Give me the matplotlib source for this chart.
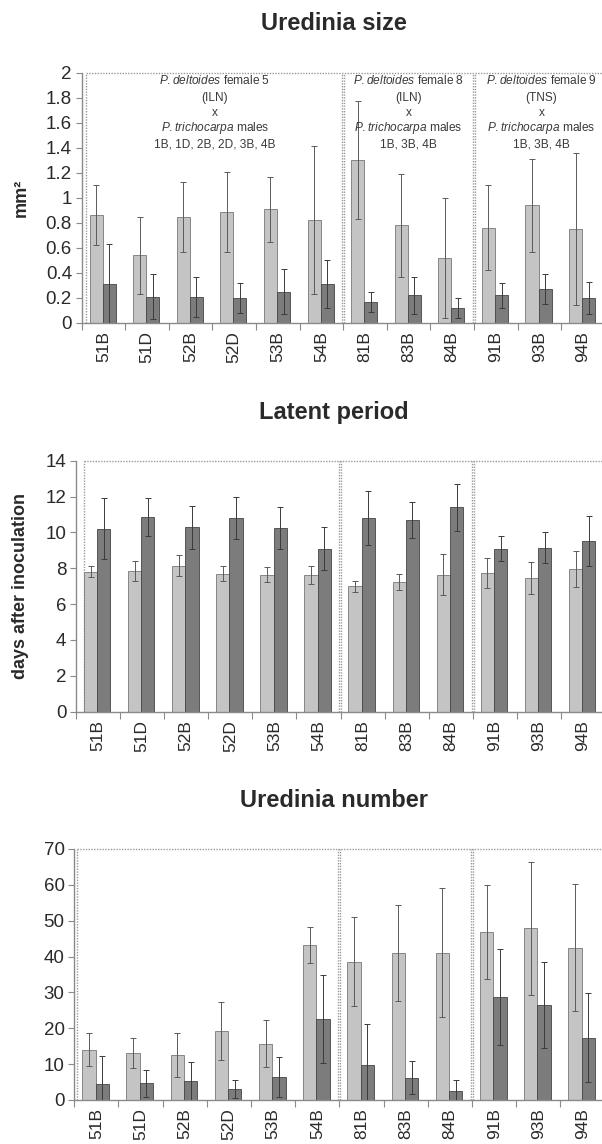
import numpy as np
import matplotlib
matplotlib.use("Agg")
import matplotlib.pyplot as plt

plt.rcParams['font.family'] = ['Liberation Sans', 'DejaVu Sans']
plt.rcParams['mathtext.fontset'] = 'custom'
plt.rcParams['mathtext.rm'] = 'Liberation Sans'
plt.rcParams['mathtext.it'] = 'Liberation Sans:italic'

# clones (x axis)
clones = ['51B', '51D', '52B', '52D', '53B', '54B', '81B', '83B', '84B', '91B', '93B', '94B']

# Uredinia size (mm2)
size_light = [0.86, 0.54, 0.85, 0.89, 0.91, 0.82, 1.30, 0.78, 0.52, 0.76, 0.94, 0.75]
size_light_err = [0.24, 0.31, 0.28, 0.32, 0.26, 0.59, 0.47, 0.41, 0.48, 0.34, 0.37, 0.61]
size_dark = [0.31, 0.21, 0.21, 0.20, 0.25, 0.31, 0.17, 0.22, 0.12, 0.22, 0.27, 0.20]
size_dark_err = [0.32, 0.18, 0.16, 0.12, 0.18, 0.19, 0.08, 0.15, 0.08, 0.10, 0.12, 0.13]

# Latent period (days after inoculation)
latent_light = [7.8, 7.85, 8.15, 7.7, 7.65, 7.6, 7.0, 7.25, 7.65, 7.75, 7.45, 7.95]
latent_light_err = [0.3, 0.55, 0.6, 0.4, 0.4, 0.5, 0.3, 0.45, 1.15, 0.85, 0.9, 1.0]
latent_dark = [10.2, 10.85, 10.3, 10.8, 10.25, 9.1, 10.8, 10.7, 11.4, 9.1, 9.15, 9.5]
latent_dark_err = [1.7, 1.05, 1.2, 1.15, 1.15, 1.2, 1.5, 1.0, 1.3, 0.7, 0.85, 1.4]

# Uredinia number
number_light = [14.0, 13.0, 12.5, 19.2, 15.7, 43.2, 38.6, 41.0, 41.0, 46.9, 47.9, 42.5]
number_light_err = [4.6, 4.2, 6.2, 8.0, 6.6, 5.1, 12.4, 13.5, 18.0, 13.1, 18.6, 17.8]
number_dark = [4.5, 4.6, 5.2, 3.0, 6.4, 22.5, 9.8, 6.2, 2.6, 28.8, 26.5, 17.3]
number_dark_err = [7.7, 3.7, 5.4, 2.5, 5.7, 12.3, 11.4, 4.6, 3.1, 13.4, 12.1, 12.4]

# tick labels
size_ticks = ['0', '0.2', '0.4', '0.6', '0.8', '1', '1.2', '1.4', '1.6', '1.8', '2']
latent_ticks = ['0', '2', '4', '6', '8', '10', '12', '14']
number_ticks = ['0', '10', '20', '30', '40', '50', '60', '70']

# crosses (boxes) : first clone index, last clone index + 1
cross_bounds = [0, 6, 9, 12]
cross_texts = [
    [r'$\mathit{P.deltoides}$ female 5', '(ILN)', 'x', r'$\mathit{P.trichocarpa}$ males', '1B, 1D, 2B, 2D, 3B, 4B'],
    [r'$\mathit{P.deltoides}$ female 8', '(ILN)', 'x', r'$\mathit{P.trichocarpa}$ males', '1B, 3B, 4B'],
    [r'$\mathit{P.deltoides}$ female 9', '(TNS)', 'x', r'$\mathit{P.trichocarpa}$ males', '1B, 3B, 4B'],
]

C_LIGHT = '#c4c4c4'
C_DARK = '#7c7c7c'
C_AX = '#8a8a8a'
C_DOT = '#9a9a9a'
C_TXT = '#2a2a2a'

fig = plt.figure(figsize=(6.02, 11.44), dpi=100)


def panel(rect, light, light_err, dark, dark_err, ymax, ticks, box_left, ylabel=None, ylabel_x=-0.1):
    ax = fig.add_axes(rect)
    x = np.arange(len(clones))
    w = 0.30
    ax.bar(x + 0.33, light, w, color=C_LIGHT, edgecolor='#777777', linewidth=0.6, zorder=2)
    ax.bar(x + 0.63, dark, w, color=C_DARK, edgecolor='#454545', linewidth=0.6, zorder=2)
    ax.errorbar(x + 0.33, light, yerr=light_err, fmt='none', ecolor='#5a5a5a',
                elinewidth=0.7, capsize=2.2, capthick=0.7, zorder=3)
    ax.errorbar(x + 0.63, dark, yerr=dark_err, fmt='none', ecolor='#3a3a3a',
                elinewidth=0.7, capsize=2.2, capthick=0.7, zorder=3)

    ax.set_xlim(0, len(clones))
    ax.set_ylim(0, ymax)
    yt = np.linspace(0, ymax, len(ticks))
    ax.set_yticks(yt)
    ax.set_yticklabels(ticks, fontsize=13.5, color=C_TXT)
    ax.set_xticks(np.arange(len(clones) + 1))
    ax.set_xticklabels([])
    ax.set_xticks(x + 0.5, minor=True)
    ax.set_xticklabels(clones, minor=True, rotation=90, fontsize=12.5, color=C_TXT)
    ax.tick_params(axis='x', which='minor', length=0, pad=6)
    ax.tick_params(axis='x', which='major', length=5, color=C_AX, direction='out')
    ax.tick_params(axis='y', length=4, color=C_AX, pad=3)

    for s in ['top', 'right']:
        ax.spines[s].set_visible(False)
    for s in ['left', 'bottom']:
        ax.spines[s].set_color(C_AX)
        ax.spines[s].set_linewidth(1.0)

    # dotted boxes around the crosses
    dot = dict(color=C_DOT, linewidth=1.0, linestyle=(0, (1, 1)), zorder=1, clip_on=False)
    ax.plot([box_left, len(clones) + 0.1], [ymax, ymax], **dot)
    ax.plot([box_left, box_left], [0, ymax], **dot)
    for b in cross_bounds[1:-1]:
        ax.plot([b - 0.03, b - 0.03], [0, ymax], **dot)
        ax.plot([b + 0.02, b + 0.02], [0, ymax], **dot)

    if ylabel:
        ax.set_ylabel(ylabel, fontsize=13, fontweight='bold', color=C_TXT)
        ax.yaxis.set_label_coords(ylabel_x, 0.5)
    return ax


ax1 = panel([0.1357, 0.7177, 0.869, 0.2188], size_light, size_light_err, size_dark, size_dark_err,
            2, size_ticks, 0.11, ylabel='mm²', ylabel_x=-0.099)
ax2 = panel([0.1262, 0.3779, 0.879, 0.2194], latent_light, latent_light_err, latent_dark, latent_dark_err,
            14, latent_ticks, 0.18, ylabel='days after inoculation', ylabel_x=-0.089)
ax3 = panel([0.1234, 0.0385, 0.881, 0.2194], number_light, number_light_err, number_dark, number_dark_err,
            70, number_ticks, 0.06)

# cross labels in the first panel
line_y = [1.934, 1.800, 1.675, 1.56, 1.427]
centers = [(0.11 + 6) / 2, 7.5, 10.55]
for cx, lines in zip(centers, cross_texts):
    for ly, t in zip(line_y, lines):
        ax1.text(cx, ly, t, ha='center', va='center', fontsize=8.6, color='#3a3a3a', zorder=4)

fig.text(0.555, 1 - 30 / 1144, 'Uredinia size', ha='center', va='baseline',
         fontsize=17, fontweight='bold', color=C_TXT)
fig.text(0.555, 1 - 419 / 1144, 'Latent period', ha='center', va='baseline',
         fontsize=17, fontweight='bold', color=C_TXT)
fig.text(0.555, 1 - 807 / 1144, 'Uredinia number', ha='center', va='baseline',
         fontsize=17, fontweight='bold', color=C_TXT)

fig.savefig('out.png', dpi=100)
